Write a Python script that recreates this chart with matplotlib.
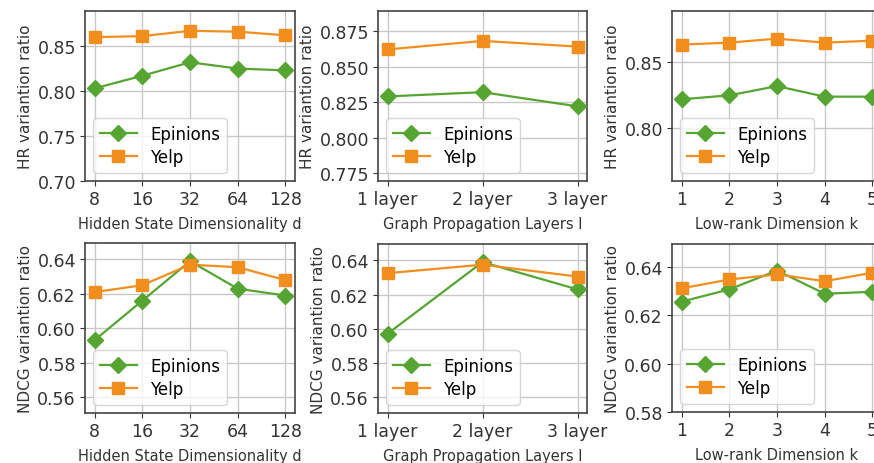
import numpy as np
import matplotlib.pyplot as plt

# values
dims = ['8', '16', '32', '64', '128']
layers = ['1 layer', '2 layer', '3 layer']
ranks = ['1', '2', '3', '4', '5']

hr_dim_epinions = [0.803, 0.817, 0.832, 0.825, 0.823]
hr_dim_yelp = [0.860, 0.861, 0.867, 0.866, 0.862]
hr_layer_epinions = [0.829, 0.832, 0.822]
hr_layer_yelp = [0.862, 0.868, 0.864]
hr_rank_epinions = [0.822, 0.825, 0.832, 0.824, 0.824]
hr_rank_yelp = [0.8635, 0.865, 0.868, 0.865, 0.8665]

ndcg_dim_epinions = [0.593, 0.616, 0.639, 0.623, 0.619]
ndcg_dim_yelp = [0.621, 0.625, 0.637, 0.6355, 0.628]
ndcg_layer_epinions = [0.597, 0.639, 0.623]
ndcg_layer_yelp = [0.6325, 0.6375, 0.6305]
ndcg_rank_epinions = [0.6257, 0.6308, 0.6386, 0.629, 0.6298]
ndcg_rank_yelp = [0.6312, 0.6349, 0.637, 0.6342, 0.6377]

green = '#56a532'
orange = '#f28e1e'

W, H = 874, 464
fig = plt.figure(figsize=(W/100, H/100), dpi=100)

def box(x0, yt, x1, yb):
    return [x0/W, (H-yb)/H, (x1-x0)/W, (yb-yt)/H]

panels = [
    (box(85, 12, 295, 182), dims, hr_dim_epinions, hr_dim_yelp, 'HR variantion ratio',
     'Hidden State Dimensionality d', (0.70, 0.889), [0.70, 0.75, 0.80, 0.85], '%.2f'),
    (box(378, 12, 587, 182), layers, hr_layer_epinions, hr_layer_yelp, 'HR variantion ratio',
     'Graph Propagation Layers l', (0.7696, 0.889), [0.775, 0.800, 0.825, 0.850, 0.875], '%.3f'),
    (box(672, 12, 882, 182), ranks, hr_rank_epinions, hr_rank_yelp, 'HR variantion ratio',
     'Low-rank Dimension k', (0.760, 0.889), [0.80, 0.85], '%.2f'),
    (box(85, 244, 295, 414), dims, ndcg_dim_epinions, ndcg_dim_yelp, 'NDCG variantion ratio',
     'Hidden State Dimensionality d', (0.5506, 0.6496), [0.56, 0.58, 0.60, 0.62, 0.64], '%.2f'),
    (box(378, 245, 587, 414), layers, ndcg_layer_epinions, ndcg_layer_yelp, 'NDCG variantion ratio',
     'Graph Propagation Layers l', (0.5506, 0.6496), [0.56, 0.58, 0.60, 0.62, 0.64], '%.2f'),
    (box(672, 245, 882, 413), ranks, ndcg_rank_epinions, ndcg_rank_yelp, 'NDCG variantion ratio',
     'Low-rank Dimension k', (0.58, 0.6496), [0.58, 0.60, 0.62, 0.64], '%.2f'),
]

for pos, cats, ep, ye, ylab, xlab, ylim, yt, fmt in panels:
    ax = fig.add_axes(pos)
    x = np.arange(len(cats))
    ax.plot(x, ep, color=green, marker='D', markersize=8.5, lw=1.6, label='Epinions', zorder=3)
    ax.plot(x, ye, color=orange, marker='s', markersize=8, lw=1.6, label='Yelp', zorder=3)
    ax.set_xticks(x)
    ax.set_xticklabels(cats, fontsize=12.5)
    ax.set_yticks(yt)
    ax.set_yticklabels([fmt % v for v in yt], fontsize=12.5)
    ax.set_ylim(*ylim)
    ax.margins(x=0.05)
    ax.set_ylabel(ylab, fontsize=11, color='#333333', labelpad=3)
    ax.set_xlabel(xlab, fontsize=10.5, color='#333333', labelpad=6)
    ax.grid(True, color='#c8c8c8', lw=1)
    ax.set_axisbelow(True)
    for s in ax.spines.values():
        s.set_color('#444444')
        s.set_linewidth(1.2)
    ax.tick_params(colors='#333333', pad=3)
    ax.legend(loc='lower left', fontsize=12, handlelength=2.2, borderpad=0.4,
              labelspacing=0.3, framealpha=0.8)

fig.savefig('out.png', dpi=100)
